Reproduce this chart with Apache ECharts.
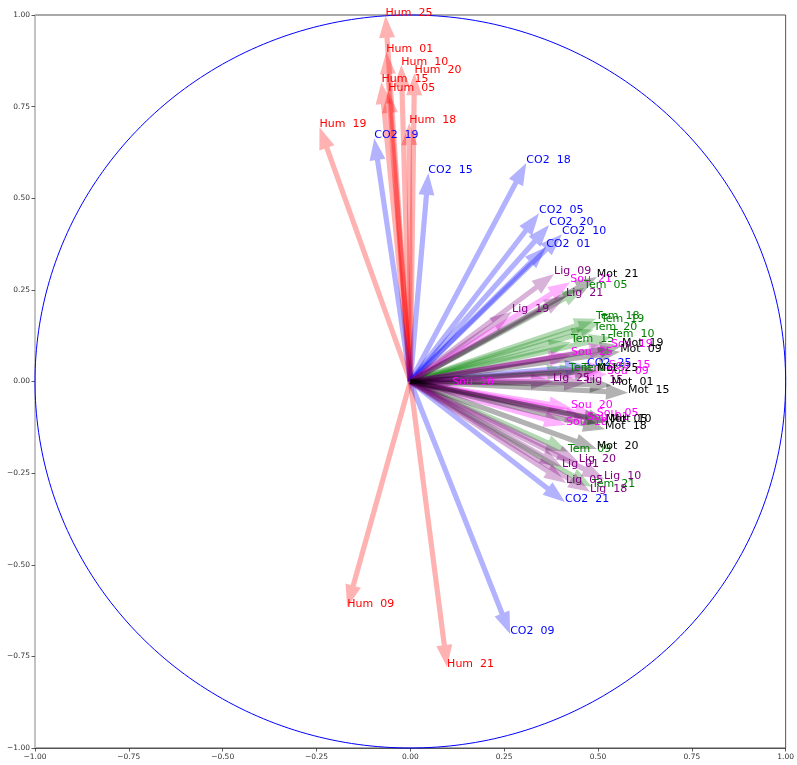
<!DOCTYPE html>
<html>
<head>
<meta charset="utf-8">
<script src="https://cdn.jsdelivr.net/npm/echarts@6/dist/echarts.min.js"></script>
<style>
  html, body { margin: 0; padding: 0; background: #fff; }
  #chart { width: 797px; height: 765px; }
</style>
</head>
<body>
<div id="chart"></div>
<script>
// Sensor ids shared by every variable group
const sensors = ['01', '05', '09', '10', '15', '18', '19', '20', '21', '25'];

// Correlation of each variable with the two principal components (x = PC1, y = PC2)
const humX = [-0.064, -0.059, -0.168, -0.024, -0.077, -0.003, -0.242, 0.011, 0.098, -0.066];
const humY = [0.899, 0.793, -0.615, 0.864, 0.817, 0.705, 0.694, 0.841, -0.779, 0.998];

const co2X = [0.362, 0.343, 0.266, 0.404, 0.048, 0.309, -0.096, 0.370, 0.412, 0.471];
const co2Y = [0.367, 0.459, -0.689, 0.402, 0.569, 0.596, 0.664, 0.427, -0.329, 0.042];

const temX = [0.423, 0.463, 0.420, 0.535, 0.428, 0.495, 0.508, 0.489, 0.484, 0.457];
const temY = [0.029, 0.255, -0.192, 0.121, 0.107, 0.171, 0.162, 0.141, -0.288, 0.029];

const ligX = [0.404, 0.415, 0.383, 0.516, 0.468, 0.479, 0.271, 0.449, 0.415, 0.380];
const ligY = [-0.233, -0.277, 0.293, -0.266, -0.004, -0.301, 0.190, -0.220, 0.233, 0.000];

const souX = [0.471, 0.497, 0.524, 0.112, 0.529, 0.415, 0.535, 0.428, 0.426, 0.428];
const souY = [-0.105, -0.094, 0.020, -0.010, 0.037, -0.119, 0.094, -0.072, 0.271, 0.072];

const motX = [0.537, 0.521, 0.559, 0.532, 0.580, 0.519, 0.564, 0.497, 0.497, 0.497];
const motY = [-0.010, -0.110, 0.081, -0.110, -0.031, -0.130, 0.097, -0.184, 0.285, 0.029];

const tickValues = [-1, -0.75, -0.5, -0.25, 0, 0.25, 0.5, 0.75, 1];

const groups = [
  { prefix: 'Hum', xs: humX, ys: humY, arrow: 'rgba(255,0,0,0.3)',     text: '#ff0000' },
  { prefix: 'CO2', xs: co2X, ys: co2Y, arrow: 'rgba(0,0,255,0.3)',     text: '#0000ff' },
  { prefix: 'Tem', xs: temX, ys: temY, arrow: 'rgba(0,128,0,0.3)',     text: '#008000' },
  { prefix: 'Lig', xs: ligX, ys: ligY, arrow: 'rgba(128,0,128,0.3)',   text: '#800080' },
  { prefix: 'Sou', xs: souX, ys: souY, arrow: 'rgba(255,0,255,0.3)',   text: '#ff00ff' },
  { prefix: 'Mot', xs: motX, ys: motY, arrow: 'rgba(0,0,0,0.3)',       text: '#000000' }
];

// Flatten into rows: [x, y, groupIndex, sensorIndex]
const rows = [];
groups.forEach((g, gi) => {
  sensors.forEach((s, si) => rows.push([g.xs[si], g.ys[si], gi, si]));
});

const SHAFT = 2.6, HEAD_W = 8, HEAD_L = 22;

function renderArrow(params, api) {
  const p0 = api.coord([0, 0]);
  const p1 = api.coord([api.value(0), api.value(1)]);
  const g = groups[api.value(2)];
  const dx = p1[0] - p0[0], dy = p1[1] - p0[1];
  const L = Math.sqrt(dx * dx + dy * dy) || 1;
  const ux = dx / L, uy = dy / L, nx = -uy, ny = ux;
  const hl = Math.min(HEAD_L, L);
  const bx = p1[0] - ux * hl, by = p1[1] - uy * hl;
  const pts = [
    [p0[0] + nx * SHAFT, p0[1] + ny * SHAFT],
    [bx + nx * SHAFT, by + ny * SHAFT],
    [bx + nx * HEAD_W, by + ny * HEAD_W],
    [p1[0], p1[1]],
    [bx - nx * HEAD_W, by - ny * HEAD_W],
    [bx - nx * SHAFT, by - ny * SHAFT],
    [p0[0] - nx * SHAFT, p0[1] - ny * SHAFT]
  ];
  return { type: 'polygon', shape: { points: pts }, style: { fill: g.arrow } };
}

function renderLabel(params, api) {
  const p1 = api.coord([api.value(0), api.value(1)]);
  const g = groups[api.value(2)];
  return {
    type: 'text',
    style: {
      text: g.prefix + '  ' + sensors[api.value(3)],
      x: p1[0], y: p1[1] + 2.5,
      fill: g.text,
      font: '11px "DejaVu Sans"',
      align: 'left', verticalAlign: 'bottom'
    }
  };
}

// Unit circle, drawn in data space so it follows the axes' scales
function renderCircle(params, api) {
  const pts = [];
  for (let i = 0; i <= 360; i++) {
    const t = i * Math.PI / 180;
    pts.push(api.coord([Math.cos(t), Math.sin(t)]));
  }
  return { type: 'polyline', shape: { points: pts }, style: { stroke: '#0000ff', lineWidth: 1, fill: null } };
}

const fmt = v => {
  const s = Math.abs(v).toFixed(2);
  return v < 0 ? '\u2212' + s : s;
};

const axisCommon = {
  type: 'value', min: -1, max: 1, interval: 0.25,
  splitLine: { show: false },
  axisTick: { show: true, length: 3.5, lineStyle: { color: '#333', width: 0.8 } },
  axisLabel: {
    formatter: fmt, fontSize: 7.5, color: '#333',
    fontFamily: 'DejaVu Sans', margin: 5, showMinLabel: true, showMaxLabel: true
  }
};

const chart = echarts.init(document.getElementById('chart'), null, { renderer: 'canvas' });
chart.setOption({
  animation: false,
  backgroundColor: '#ffffff',
  grid: { left: 35, right: 10, top: 15, bottom: 17, show: true, borderColor: '#555', borderWidth: 1, backgroundColor: 'transparent' },
  xAxis: Object.assign({}, axisCommon, {
    axisLine: { show: true, onZero: false, lineStyle: { color: '#555', width: 1 } }
  }),
  yAxis: Object.assign({}, axisCommon, {
    axisLine: { show: true, onZero: false, lineStyle: { color: '#cccccc', width: 1.5 } }
  }),
  series: [
    { type: 'custom', renderItem: renderCircle, data: [[0, 0]], silent: true, z: 1, clip: false },
    { type: 'custom', renderItem: renderArrow, data: rows, silent: true, z: 2 },
    { type: 'custom', renderItem: renderLabel, data: rows, silent: true, z: 3, clip: false }
  ]
});
</script>
</body>
</html>
